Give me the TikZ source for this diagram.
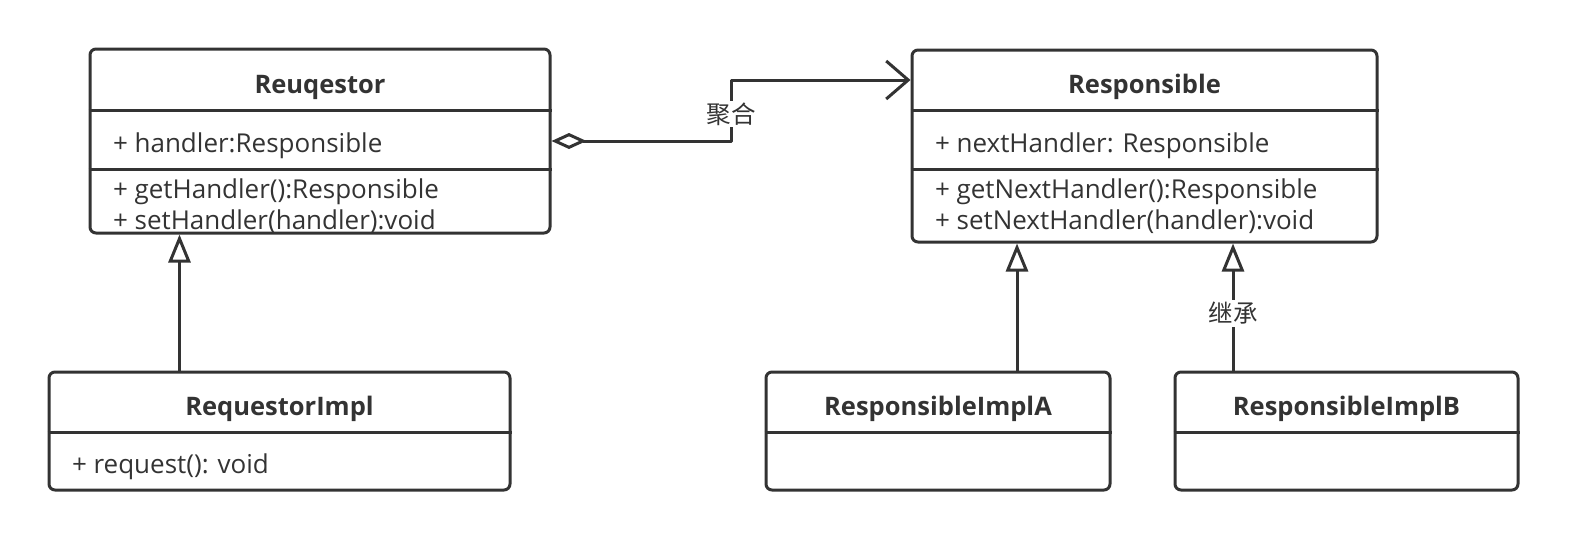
\documentclass[tikz,border=0pt]{standalone}
\usepackage{fontspec}
\setmainfont{Open Sans}
\newfontfamily\cjk{Noto Sans CJK SC}
\usetikzlibrary{arrows.meta,calc}
\definecolor{ink}{HTML}{333333}
\begin{document}
\begin{tikzpicture}[x=1pt, y=-1pt, line width=3pt, draw=ink, text=ink, line join=round,
		font=\fontsize{26}{30}\selectfont,
		classbox/.style={draw=ink, rounded corners=6pt, inner sep=0pt},
		title/.style={font=\fontsize{25.5}{30}\selectfont\bfseries, inner sep=0pt},
		member/.style={anchor=west, inner sep=0pt},
		inherit/.style={-{Triangle[open, length=28pt, width=22pt, fill=white]}},
		aggr/.style={{Diamond[open, length=35pt, width=16pt, fill=white]}-{Straight Barb[length=22pt, width=38pt]}},
		tag/.style={font=\cjk\fontsize{24.5}{28}\selectfont, fill=white, inner sep=2pt}]
	\useasboundingbox (0,0) rectangle (1572,542);
	% classes
	\node[classbox, minimum width=460pt, minimum height=184pt] (req) at (320,141) {};
	\node[classbox, minimum width=465pt, minimum height=192pt] (resp) at (1144.5,146) {};
	\node[classbox, minimum width=461pt, minimum height=118pt] (reqimpl) at (279.5,431) {};
	\node[classbox, minimum width=344pt, minimum height=118pt] (impla) at (938,431) {};
	\node[classbox, minimum width=343pt, minimum height=118pt] (implb) at (1346.5,431) {};
	% compartments
	\foreach \b in {req,resp}{
		\draw (\b.west |- 0,110) -- (\b.east |- 0,110);
		\draw (\b.west |- 0,169) -- (\b.east |- 0,169);}
	\foreach \b in {reqimpl,impla,implb}\draw (\b.west |- 0,432) -- (\b.east |- 0,432);
	% texts
	\node[title] (reqname) at (req.center |- 0,87) {Reuqestor};
	\node[member] (reqattr) at ([xshift=23pt]req.west |- 0,146) {+ handler:Responsible};
	\node[member] (reqget) at ([xshift=23pt]req.west |- 0,192) {+ getHandler():Responsible};
	\node[member] (reqset) at ([xshift=23pt]req.west |- 0,222) {+ setHandler(handler):void};
	\node[title] (respname) at (resp.center |- 0,87) {Responsible};
	\node[member] (respattr) at ([xshift=23pt]resp.west |- 0,146) {+ nextHandler: Responsible};
	\node[member] (respget) at ([xshift=23pt]resp.west |- 0,192) {+ getNextHandler():Responsible};
	\node[member] (respset) at ([xshift=23pt]resp.west |- 0,222) {+ setNextHandler(handler):void};
	\node[title] (reqimplname) at (reqimpl.center |- 0,409) {RequestorImpl};
	\node[member] (reqimplop) at ([xshift=23pt]reqimpl.west |- 0,467) {+ request(): void};
	\node[title] (implaname) at (impla.center |- 0,409) {ResponsibleImplA};
	\node[title] (implbname) at (implb.center |- 0,409) {ResponsibleImplB};
	% relations
	\draw[aggr] (req.east) -| (731,110) node[tag] (aggtag) at (731,114) {聚合} |- ([yshift=66pt]resp.west);
	\draw[inherit] ([xshift=-100pt]reqimpl.north) -- ([xshift=-100pt]reqimpl.north |- req.south);
	\draw[inherit] ([xshift=79pt]impla.north) -- ([xshift=79pt]impla.north |- resp.south);
	\draw[inherit] ([xshift=-113.5pt]implb.north) -- ([xshift=-113.5pt]implb.north |- resp.south)
		node[tag, pos=0.45] (inhtag) {继承};
\end{tikzpicture}
\end{document}
